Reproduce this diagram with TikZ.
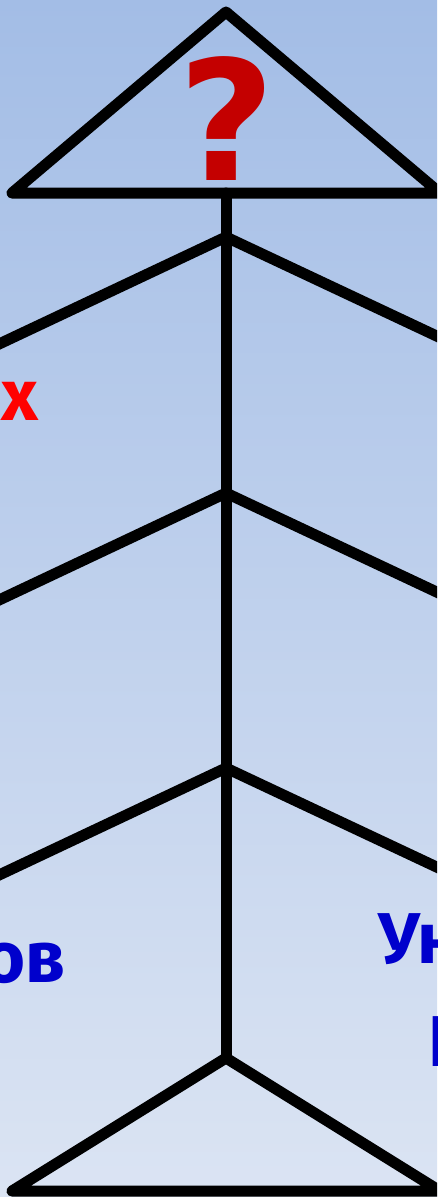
\documentclass[tikz,border=0pt]{standalone}
\usepackage{fontspec}
\setmainfont{Fira Sans}
\newfontfamily\qfont{DejaVu Sans}
\definecolor{bgtop}{RGB}{163,189,230}
\definecolor{bgbot}{RGB}{219,228,243}
\definecolor{qred}{RGB}{196,0,0}
\definecolor{lblue}{RGB}{0,0,204}
\definecolor{lred}{RGB}{255,0,0}
\begin{document}
\begin{tikzpicture}[x=1pt,y=-1pt,
  bone/.style={line width=11pt, line join=round, line cap=round, black},
  redlabel/.style={font=\fontsize{72}{72}\selectfont\bfseries, text=lred, inner sep=0pt},
  bluelabel/.style={font=\fontsize{72}{72}\selectfont\bfseries, text=lblue, inner sep=0pt}]
\shade[top color=bgtop, bottom color=bgbot] (0,0) rectangle (437,1197);
\useasboundingbox (0,0) rectangle (437,1197);
\clip (0,0) rectangle (437,1197);
% key points
\coordinate (apex) at (226,12);
\coordinate (tl) at (12,193);
\coordinate (tr) at (440,193);
\coordinate (top) at (226,193);
\coordinate (j1) at (226,237);
\coordinate (j2) at (226,493);
\coordinate (j3) at (226,768);
\coordinate (ba) at (226,1058);
\coordinate (bl) at (12,1191);
\coordinate (br) at (440,1191);
\coordinate (l1) at (-20,353);
\coordinate (r1) at (460,347);
\coordinate (l2) at (-20,609);
\coordinate (r2) at (460,603);
\coordinate (l3) at (-20,884);
\coordinate (r3) at (460,878);
% head
\draw[bone] (apex) -- (tr) -- (tl) -- cycle;
% spine
\draw[bone] (top) -- (ba);
% ribs
\draw[bone] (l1) -- (j1) -- (r1);
\draw[bone] (l2) -- (j2) -- (r2);
\draw[bone] (l3) -- (j3) -- (r3);
% tail
\draw[bone] (ba) -- (br) -- (bl) -- cycle;
% question mark
\node[anchor=base, inner sep=0pt, text=qred, font=\qfont\fontsize{167}{167}\selectfont\bfseries] (q) at (227,180) {?};
% labels
\node[redlabel, anchor=base east] (lab1) at (39,420) {х};
\node[bluelabel, anchor=base east] (lab2) at (66,982) {ов};
\node[bluelabel, anchor=base west] (lab3) at (378,963) {Ун};
\node[bluelabel, anchor=base west] (lab4) at (428,1066) {Г};
\end{tikzpicture}
\end{document}
